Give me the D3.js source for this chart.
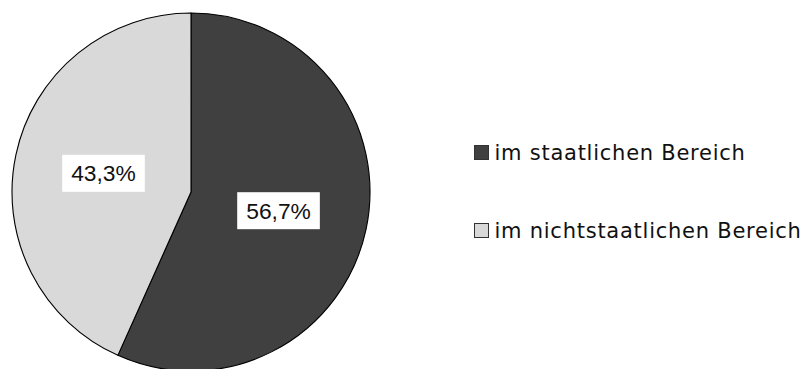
<!DOCTYPE html>
<html>
<head>
<meta charset="utf-8">
<script src="https://cdn.jsdelivr.net/npm/d3@7"></script>
<style>
  html, body { margin: 0; padding: 0; background: #ffffff; }
  svg { display: block; }
</style>
</head>
<body>
<svg id="chart" width="805" height="369"></svg>
<script>
// Anteil der Beschäftigten nach Bereich
const categories = ["im staatlichen Bereich", "im nichtstaatlichen Bereich"];
const shares = [56.7, 43.3];
const colors = ["#404040", "#d9d9d9"];

const width = 805, height = 369;
const cx = 191, cy = 192, radius = 179;

const svg = d3.select("#chart");

const data = categories.map((c, i) => ({ name: c, value: shares[i], color: colors[i] }));

const pie = d3.pie().sort(null).value(d => d.value);
const arcs = pie(data);
const arc = d3.arc().innerRadius(0).outerRadius(radius);

const g = svg.append("g").attr("transform", `translate(${cx},${cy})`);

g.selectAll("path.slice")
  .data(arcs)
  .enter().append("path")
  .attr("class", "slice")
  .attr("d", arc)
  .attr("fill", d => d.data.color)
  .attr("stroke", "#000000")
  .attr("stroke-width", 1.1)
  .attr("stroke-linejoin", "round");

// value labels on white boxes at the slice centroids
const fmt = v => d3.format(".1f")(v).replace(".", ",") + "%";
const labelSize = 22.8;
const labels = g.selectAll("g.lbl")
  .data(arcs)
  .enter().append("g")
  .attr("class", "lbl")
  .attr("transform", d => `translate(${arc.centroid(d)})`);

labels.append("rect").attr("fill", "#ffffff");
labels.append("text")
  .attr("text-anchor", "middle")
  .attr("y", labelSize * 0.358)
  .attr("font-family", "'Liberation Sans', Arial, sans-serif")
  .attr("font-size", labelSize)
  .attr("fill", "#111111")
  .text(d => fmt(d.data.value));

labels.each(function () {
  const t = d3.select(this).select("text").node();
  const w = t.getComputedTextLength() + 18;
  const h = 37;
  d3.select(this).select("rect")
    .attr("x", -w / 2).attr("y", -h / 2)
    .attr("width", w).attr("height", h);
});

// legend
const legendX = 474, legendY0 = 145, legendStep = 78, box = 14;
const legendSize = 21;
const legend = svg.selectAll("g.legend")
  .data(data)
  .enter().append("g")
  .attr("class", "legend")
  .attr("transform", (d, i) => `translate(${legendX},${legendY0 + i * legendStep})`);

legend.append("rect")
  .attr("x", 0.5).attr("y", 0.5)
  .attr("width", box).attr("height", box)
  .attr("fill", d => d.color)
  .attr("stroke", "#333333")
  .attr("stroke-width", 1);

legend.append("text")
  .attr("x", 20.5)
  .attr("y", 15.2)
  .attr("font-family", "'DejaVu Sans', sans-serif")
  .attr("font-size", legendSize)
  .attr("letter-spacing", 0.75)
  .attr("fill", "#111111")
  .text(d => d.name);
</script>
</body>
</html>
